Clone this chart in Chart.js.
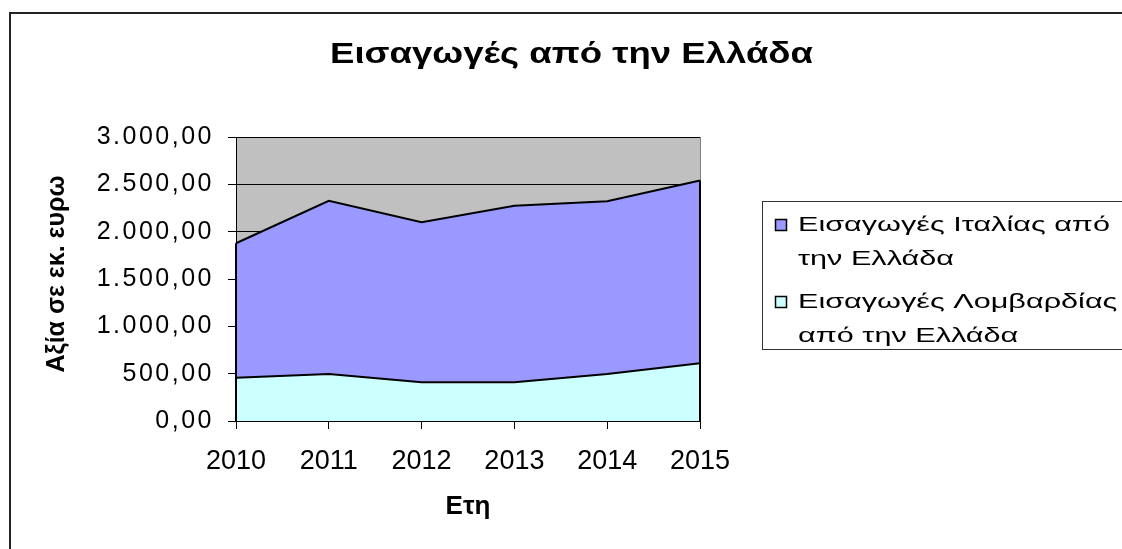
<!DOCTYPE html>
<html>
<head>
<meta charset="utf-8">
<script src="https://cdn.jsdelivr.net/npm/chart.js@4/dist/chart.umd.min.js"></script>
<style>
  html, body { margin: 0; padding: 0; background: #fff; }
  #wrap { width: 1122px; height: 549px; }
</style>
</head>
<body>
<div id="wrap"><canvas id="chart" width="1122" height="549"></canvas></div>
<script>
const years = ['2010', '2011', '2012', '2013', '2014', '2015'];
const italyValues = [1878, 2325, 2100, 2273, 2322, 2540];
const lombardyValues = [458, 497, 409, 409, 497, 610];
const italyLabel = ['Εισαγωγές Ιταλίας από', 'την Ελλάδα'];
const lombardyLabel = ['Εισαγωγές Λομβαρδίας', 'από την Ελλάδα'];
const yTicks = [0, 500, 1000, 1500, 2000, 2500, 3000];
const yTitle = 'Αξία σε εκ. ευρω';

const FONT = "'Liberation Sans', Arial, sans-serif";

function greekNumber(v) {
  const parts = v.toFixed(2).split('.');
  const intPart = parts[0].replace(/\B(?=(\d{3})+(?!\d))/g, '.');
  return intPart + ',' + parts[1];
}

// draws text stretched horizontally to a given width (Excel export look)
function wideText(ctx, text, x, y, width) {
  const w = ctx.measureText(text).width;
  ctx.save();
  ctx.translate(x, y);
  ctx.scale(width / w, 1);
  ctx.fillText(text, 0, 0);
  ctx.restore();
}

// gray plot background + gray plot border, wider letters for the y tick labels
const plotBackground = {
  id: 'plotBackground',
  beforeDraw(chart) {
    const { ctx, chartArea: a } = chart;
    ctx.save();
    ctx.fillStyle = '#c0c0c0';
    ctx.fillRect(a.left, a.top, a.right - a.left, a.bottom - a.top);
    ctx.strokeStyle = '#808080';
    ctx.lineWidth = 1;
    ctx.strokeRect(a.left + 0.5, a.top + 0.5, a.right - a.left, a.bottom - a.top);
    ctx.restore();
    ctx.letterSpacing = '2.5px';
  },
  beforeDatasetsDraw(chart) {
    chart.ctx.letterSpacing = '0px';
  }
};

// side edges of the areas, like the Excel area outline
const areaEdges = {
  id: 'areaEdges',
  afterDatasetsDraw(chart) {
    const { ctx, chartArea: a } = chart;
    ctx.save();
    ctx.strokeStyle = '#000';
    ctx.lineWidth = 2;
    chart.data.datasets.forEach((ds, i) => {
      const pts = chart.getDatasetMeta(i).data;
      const first = pts[0], last = pts[pts.length - 1];
      ctx.beginPath();
      ctx.moveTo(first.x, first.y);
      ctx.lineTo(first.x, a.bottom);
      ctx.moveTo(last.x, last.y);
      ctx.lineTo(last.x, a.bottom);
      ctx.stroke();
    });
    ctx.restore();
  }
};

// title, y title, outer frame and legend box
const decorations = {
  id: 'decorations',
  afterDraw(chart) {
    const { ctx, chartArea: a } = chart;
    ctx.save();
    ctx.strokeStyle = '#222';
    ctx.lineWidth = 2;
    ctx.strokeRect(10, 13, 1300, 700);

    ctx.fillStyle = '#000';
    ctx.font = 'bold 29px ' + FONT;
    ctx.textAlign = 'left';
    ctx.textBaseline = 'alphabetic';
    wideText(ctx, 'Εισαγωγές από την Ελλάδα', 330, 63, 483);

    // y axis title, rotated
    ctx.save();
    ctx.font = 'bold 25px ' + FONT;
    ctx.translate(57, (a.top + a.bottom) / 2 - 5);
    ctx.rotate(-Math.PI / 2);
    ctx.textAlign = 'center';
    ctx.textBaseline = 'middle';
    ctx.fillText(yTitle, 0, 0);
    ctx.restore();

    ctx.strokeStyle = '#333';
    ctx.lineWidth = 1;
    ctx.strokeRect(762.5, 201.5, 500, 148);

    const items = [
      { lines: italyLabel, color: chart.data.datasets[0].backgroundColor, y: 231 },
      { lines: lombardyLabel, color: chart.data.datasets[1].backgroundColor, y: 308 }
    ];
    ctx.font = '21px ' + FONT;
    const sx = 312 / ctx.measureText(italyLabel[0]).width;
    items.forEach(it => {
      ctx.fillStyle = it.color;
      ctx.fillRect(775, it.y - 12, 12, 12);
      ctx.strokeStyle = '#000';
      ctx.lineWidth = 1.5;
      ctx.strokeRect(775.5, it.y - 11.5, 11, 11);
      ctx.fillStyle = '#000';
      it.lines.forEach((line, j) => {
        const w = ctx.measureText(line).width * sx;
        wideText(ctx, line, 798, it.y + j * 34, w);
      });
    });
    ctx.restore();
  }
};

new Chart(document.getElementById('chart'), {
  type: 'line',
  data: {
    labels: years,
    datasets: [
      {
        label: italyLabel.join(' '),
        data: italyValues,
        backgroundColor: '#9999ff',
        borderColor: '#000',
        borderWidth: 2,
        fill: 'origin',
        pointRadius: 0,
        tension: 0,
        order: 1
      },
      {
        label: lombardyLabel.join(' '),
        data: lombardyValues,
        backgroundColor: '#ccffff',
        borderColor: '#000',
        borderWidth: 2,
        fill: 'origin',
        pointRadius: 0,
        tension: 0,
        order: 0
      }
    ]
  },
  options: {
    responsive: false,
    animation: false,
    layout: { padding: { left: 10, right: 422, top: 137, bottom: 10 } },
    plugins: {
      legend: { display: false },
      title: { display: false },
      tooltip: { enabled: false }
    },
    scales: {
      x: {
        offset: false,
        afterFit: s => { s.height = 118; },
        grid: { z: 1, drawOnChartArea: false, drawTicks: true, tickLength: 8, color: '#000' },
        border: { color: '#000', width: 1, z: 1 },
        ticks: { z: 1, color: '#000', padding: 16, font: { family: FONT, size: 27 }, maxRotation: 0 },
        title: {
          display: true,
          text: 'Ετη',
          color: '#000',
          font: { family: FONT, size: 26, weight: 'bold' },
          padding: { top: 0, bottom: 17 }
        }
      },
      y: {
        min: 0,
        max: 3000,
        afterFit: s => { s.width = 226; },
        afterBuildTicks: s => { s.ticks = yTicks.map(v => ({ value: v })); },
        grid: { color: '#000', lineWidth: 1, tickLength: 8 },
        border: { color: '#000', width: 1 },
        ticks: {
          color: '#000',
          padding: 14,
          font: { family: FONT, size: 25 },
          callback: v => greekNumber(v)
        }
      }
    }
  },
  plugins: [plotBackground, areaEdges, decorations]
});
</script>
</body>
</html>
